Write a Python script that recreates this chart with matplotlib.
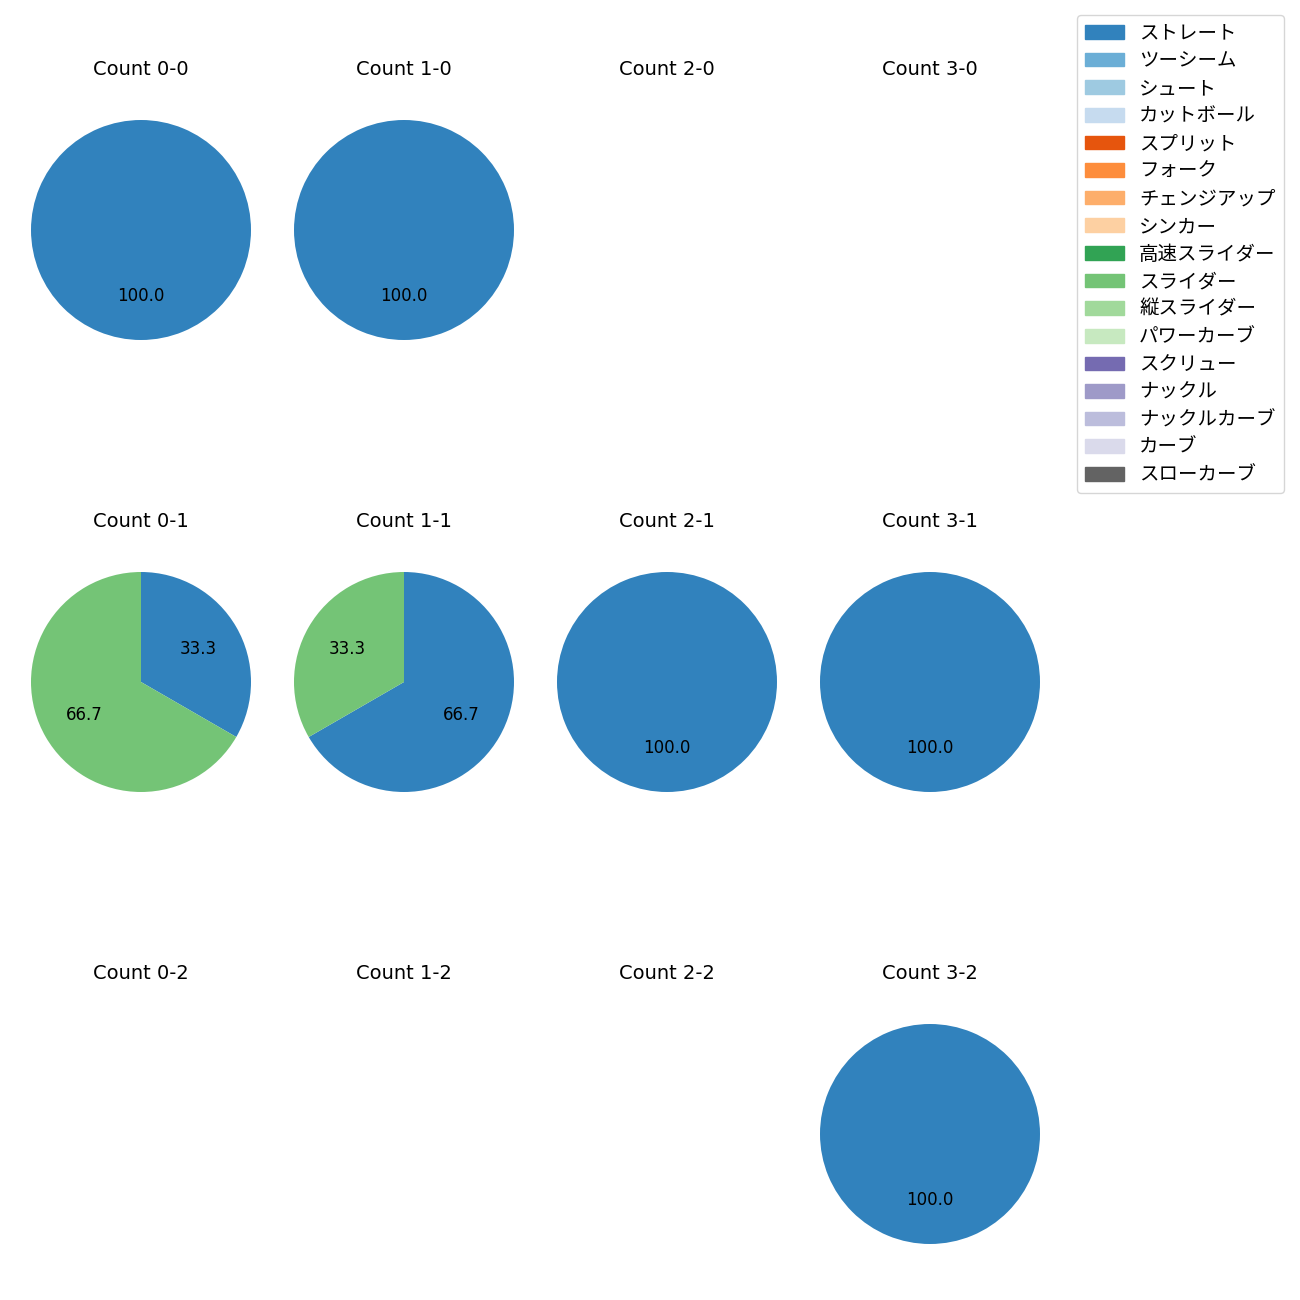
import matplotlib
matplotlib.use("Agg")
import matplotlib.pyplot as plt

plt.rcParams['font.family'] = ['Noto Sans CJK JP', 'DejaVu Sans']

pitch_types = ["ストレート", "ツーシーム", "シュート", "カットボール", "スプリット", "フォーク",
               "チェンジアップ", "シンカー", "高速スライダー", "スライダー", "縦スライダー",
               "パワーカーブ", "スクリュー", "ナックル", "ナックルカーブ", "カーブ", "スローカーブ"]
colors = ["#3182bd", "#6baed6", "#9ecae1", "#c6dbef", "#e6550d", "#fd8d3c", "#fdae6b",
          "#fdd0a2", "#31a354", "#74c476", "#a1d99b", "#c7e9c0", "#756bb1", "#9e9ac8",
          "#bcbddc", "#dadaeb", "#636363"]

# pitch counts per (balls, strikes)
counts = {
    (0, 0): {"ストレート": 1},
    (1, 0): {"ストレート": 1},
    (2, 0): {},
    (3, 0): {},
    (0, 1): {"ストレート": 1, "スライダー": 2},
    (1, 1): {"ストレート": 2, "スライダー": 1},
    (2, 1): {"ストレート": 1},
    (3, 1): {"ストレート": 1},
    (0, 2): {},
    (1, 2): {},
    (2, 2): {},
    (3, 2): {"ストレート": 1},
}

W, H = 1300, 1300
fig = plt.figure(figsize=(13, 13), dpi=100)
col_x = [141, 404, 667, 930]
row_y = [230, 682, 1134]
side = 275
latin = ['DejaVu Sans', 'Noto Sans CJK JP']

for (b, s), d in counts.items():
    cx, cy = col_x[b], row_y[s]
    ax = fig.add_axes([(cx - side / 2) / W, 1 - (cy + side / 2) / H, side / W, side / H])
    labels = [p for p in pitch_types if d.get(p, 0) > 0]
    vals = [d[p] for p in labels]
    cols = [colors[pitch_types.index(p)] for p in labels]
    if vals:
        ax.pie(vals, colors=cols, autopct="%.1f", startangle=90, counterclock=False,
               textprops={'fontsize': 12, 'family': latin})
    ax.set_xlim(-1.25, 1.25)
    ax.set_ylim(-1.25, 1.25)
    ax.set_aspect('equal')
    ax.axis('off')
    ax.set_title(f"Count {b}-{s}", fontsize=14, family=latin, pad=12.5)

handles = [plt.Rectangle((0, 0), 1, 1, color=c) for c in colors]
fig.legend(handles, pitch_types, loc='upper left', bbox_to_anchor=(1077 / W, 1 - 15 / H),
           fontsize=14, labelspacing=0.34, borderaxespad=0)

fig.savefig("out.png")
